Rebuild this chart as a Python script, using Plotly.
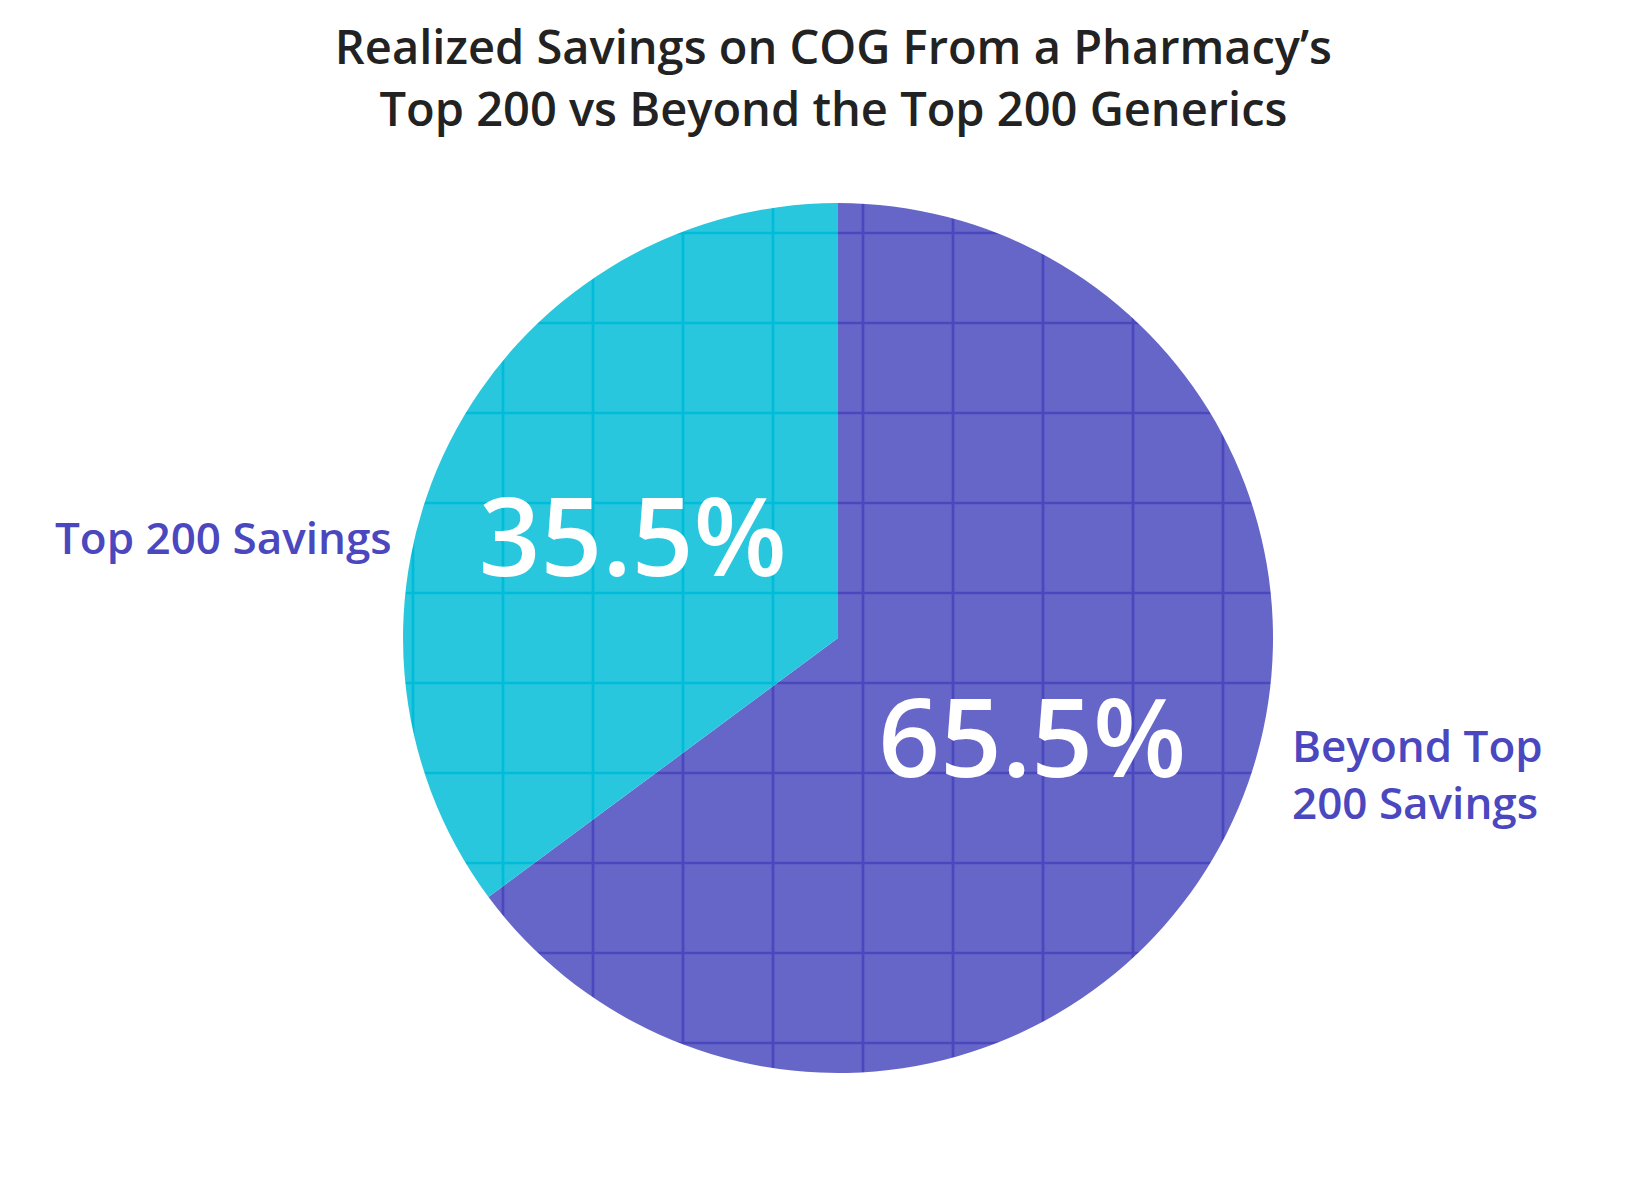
import plotly.graph_objects as go

# slice data (drawn clockwise from 12 o'clock)
labels = ["Beyond Top 200 Savings", "Top 200 Savings"]
values = [65.5, 35.5]
pct_text = ["65.5%", "35.5%"]

base_colors = ["#6666C9", "#28C7DD"]
line_colors = ["#4A47BF", "#00BCD8"]
label_color = "#4A47BF"

fig = go.Figure(
    go.Pie(
        labels=labels,
        values=values,
        text=pct_text,
        texttemplate="%{text}",
        textposition="inside",
        insidetextorientation="horizontal",
        textfont=dict(family="Open Sans", size=108, color="white", weight=600),
        sort=False,
        direction="clockwise",
        rotation=0,
        marker=dict(
            colors=base_colors,
            line=dict(width=0),
            pattern=dict(
                shape="+",
                bgcolor=base_colors,
                fgcolor=line_colors,
                size=90,
                solidity=0.06,
                fillmode="replace",
            ),
        ),
        domain=dict(x=[0.2407, 0.7709], y=[0.1125, 0.8375]),
        showlegend=False,
        hoverinfo="label+text",
    )
)

# category labels beside the pie
fig.add_annotation(
    x=0.235, y=0.559, xref="paper", yref="paper",
    text="Top 200 Savings", showarrow=False, xanchor="right", yanchor="middle",
    font=dict(family="Open Sans", size=44, color=label_color, weight=600),
)
fig.add_annotation(
    x=0.781, y=0.362, xref="paper", yref="paper",
    text="Beyond Top<br>200 Savings", showarrow=False, xanchor="left",
    yanchor="middle", align="left",
    font=dict(family="Open Sans", size=44, color=label_color, weight=600),
)

fig.update_layout(
    title=dict(
        text="Realized Savings on COG From a Pharmacy’s<br>Top 200 vs Beyond the Top 200 Generics",
        x=0.503, xanchor="center", y=0.953, yanchor="top",
        font=dict(family="Open Sans", size=47, color="#222222", weight=600),
    ),
    width=1641,
    height=1200,
    margin=dict(l=0, r=0, t=0, b=0),
    paper_bgcolor="white",
    plot_bgcolor="white",
)

fig.write_html("out.html")
